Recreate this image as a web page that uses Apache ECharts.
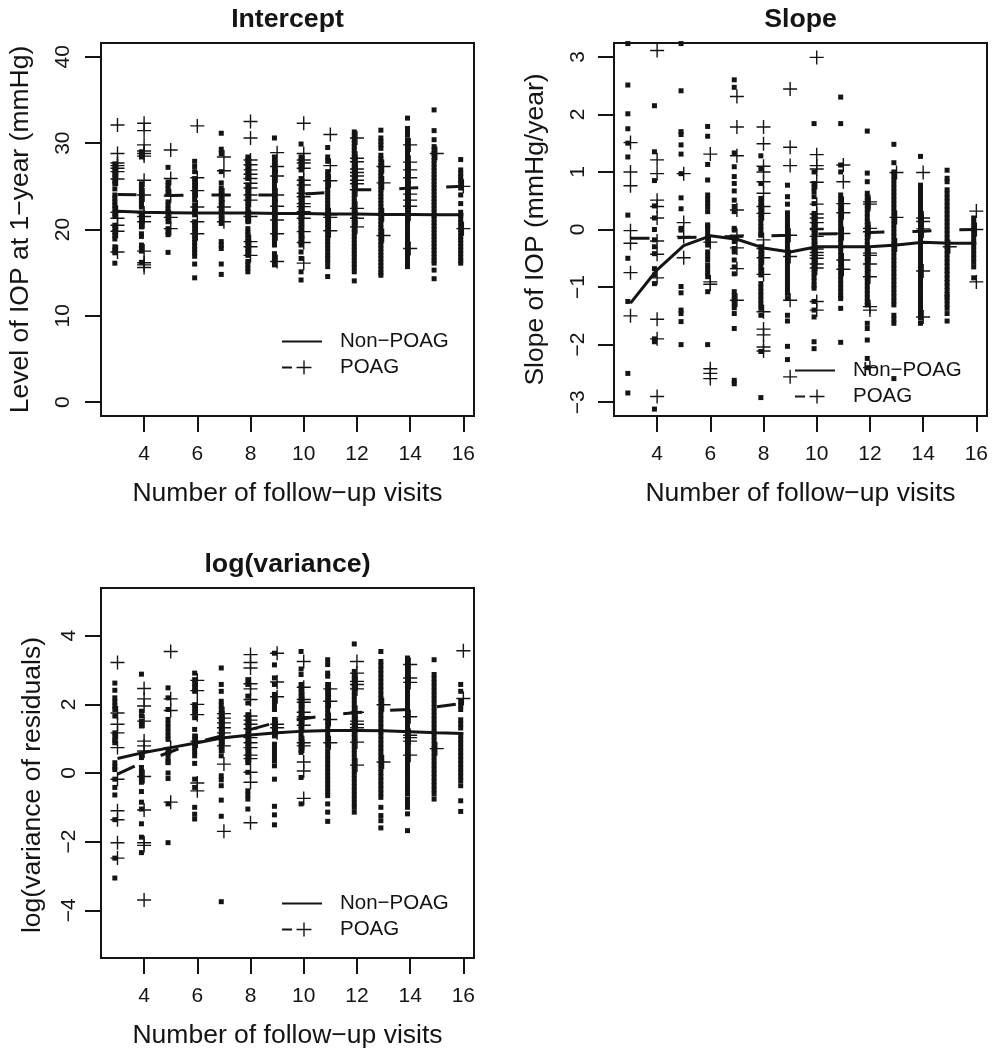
<!DOCTYPE html>
<html>
<head>
<meta charset="utf-8">
<script src="https://cdn.jsdelivr.net/npm/echarts@6/dist/echarts.min.js"></script>
<style>html,body{margin:0;padding:0;background:#fff}#c{width:996px;height:1050px}</style>
</head>
<body>
<div id="c"></div>
<script>
const visits = [3,4,5,6,7,8,9,10,11,12,13,14,15,16];
const nonShift = -0.1;

const interceptNonMean  = [22.1,22.0,21.95,21.9,21.9,21.9,21.85,21.85,21.8,21.8,21.75,21.75,21.7,21.7];
const interceptPoagMean = [24.05,24.0,23.95,24.0,24.0,24.0,24.0,24.1,24.3,24.6,24.6,24.8,24.9,25.0];
const slopeNonMean      = [-1.28,-0.7,-0.28,-0.11,-0.17,-0.32,-0.39,-0.3,-0.3,-0.3,-0.27,-0.22,-0.24,-0.24];
const slopePoagMean     = [-0.15,-0.15,-0.14,-0.13,-0.12,-0.11,-0.1,-0.08,-0.07,-0.05,-0.04,-0.03,-0.01,0.0];
const logvarNonMean     = [0.42,0.6,0.74,0.88,1.03,1.11,1.17,1.22,1.24,1.24,1.23,1.2,1.17,1.15];
const logvarPoagMean    = [-0.03,0.33,0.62,0.9,1.1,1.27,1.48,1.58,1.7,1.76,1.82,1.85,1.93,2.03];

const interceptNon = [
[27.6,27.2,26.8,26.4,26,25.6,25.3,24.7,24,23.6,23.2,22.8,22.4,21.9,21.5,20.5,20.1,19.7,19.3,18.9,18,17.6,17.3,16.1],
[29,28.8,28.4,25.3,24.9,24.5,24.1,23.7,23.3,22.9,22.6,21.9,21.5,21.1,20.7,20.3,19.5,19.2,18.2,17.8,17.5,16.2],
[27.2,25.5,25.1,24.7,24.3,23.2,22.8,22.4,22.1,21.7,21.3,20.9,20.1,19.7,19.4,17.35],
[27.9,27.3,26.7,25.9,25.5,25.1,24.7,24.3,23.9,23.4,22.8,22.4,22,21.7,20.9,20.5,20.1,19.7,19.3,18.9,18.5,18.1,17.7,17.3,16.9,16,14.4],
[31.15,29.3,28.8,26.7,25.4,24.8,24.4,24,23.6,23.2,22.8,22.4,22,21.6,21.2,20.7,18.6,18.2,17.8,16,14.8],
[28.4,28,27.6,27.2,26.8,26.4,25.9,25.15,24.7,24.3,23.9,23.5,23.1,22.7,22.3,21.9,21.5,21.1,20.9,20.1,19.7,19.4,19,18.6,18.2,17.8,17.4,17,16.3,15.9,15.5,15.1],
[30.6,28.4,27.9,27.5,27.1,26.7,26.3,25.9,25.5,25,24.6,24.2,23.8,23.4,23,22.6,22.2,21.8,21.4,21,20.6,20.2,19.8,19.4,19,18.6,18.2,17.2,16.8,16.4,15.9],
[29.9,28.4,28,27.6,27.2,26.9,25.9,25.35,24.9,24.5,24.1,23.7,23.3,22.9,22.5,22.1,21.7,21.3,20.9,20.5,20.1,19.7,19.3,18.9,18.5,18.2,17.4,16.65,15.1,14.15],
[29.5,28.4,27.9,26.7,26.3,25.9,25.5,25,24.6,24.2,23.8,23.4,23,22.6,22.2,21.8,21.4,21,20.6,20.2,19.8,19.4,19,18.6,18.2,17.8,17.4,17,16.6,16.2,15.7,14.55],
[31.3,30.8,30.4,30,29.6,29.2,28.8,28.4,28,27.6,27.2,26.8,26.4,26,25.6,25.2,24.8,24.4,24,23.6,23.2,22.8,22.4,22,21.6,21.2,20.8,20.4,20,19.6,19.2,18.8,18.4,18,17.6,17.2,16.8,16.4,16,15.6,15.1,14.05],
[31.5,30.6,30.2,29.8,29.4,28.6,28.2,27.8,27.4,27,26.6,26.2,25.8,25.4,25,24.6,24.2,23.8,23.4,23,22.6,22.2,21.8,21.4,21,20.6,20.2,19.8,19.4,19,18.6,18.2,17.8,17.4,17,16.6,16.2,15.8,15.4,15,14.7],
[32.9,31.7,31.3,31,30.4,30,29.6,29.2,28.8,28.4,28,27.6,27.2,26.8,26.4,26,25.6,25.2,24.8,24.4,24,23.6,23.2,22.8,22.4,22,21.6,21.2,20.8,20.4,20,19.6,19.2,18.8,18.4,18,17.6,17.2,16.8,16.4,16,15.7],
[33.85,31.45,30.4,29.6,29.2,28.8,28.4,28,27.6,27.2,26.8,26.4,26,25.6,25.2,24.8,24.4,24,23.6,23.2,22.8,22.4,22,21.6,21.2,20.8,20.4,20,19.6,19.2,18.8,18.4,18,17.6,17.2,16.8,16.4,16.1,15.3,14.3],
[28.1,26.9,26.5,26.1,25.7,25.35,24.8,24,23,22,21.6,21.2,20.8,20.4,20,19.6,19.2,18.8,18.4,18,17.6,17.2,16.8,16.4,16.1]
];
const interceptPoag = [
[32.1,28.8,27.7,27.4,27.1,26.7,25.85,22,21.3,20.5,19.8,17.4],
[32.3,31.45,29.8,29.1,28.8,28.5,25.7,24,21.9,21.5,20.9,17.5,16.15,15.9,15.6],
[29.2,25.9,23.9,21.4,20.1],
[32,26,24.5,22.6,20.9,19.5],
[28.4,26.8,24,22.6,20.9],
[32.5,30.6,28.05,27.5,26.9,26.4,25.9,25.35,24.8,24,23.4,21.5,18.6,18,17],
[28.9,27.3,26.2,24,22.7,21.1,19.5,16.3],
[32.3,28.8,28.05,27.7,27.1,25.7,25.15,24.2,23.8,23,22.65,22.05,21.3,19.75,18.5,16.1],
[31,27.4,25.65,21.7,21.4,19.85],
[30.6,28.25,27.85,27,26.6,26.2,25.7,25.3,24.6,22.45,21.3,20.3],
[27.3,25.4,21.7,19.3],
[29.8,27.8,26.9,26,24.8,24.1,23.4,22.7,21.8,17.8],
[28.8],
[25,20.1]
];

const slopeNon = [
[3.23,2.51,2.01,1.75,1.5,1.26,0.25,-0.5,-1.25,-2.5,-2.84],
[2.15,1.35,0.85,0.41,0.2,0,-0.18,-0.3,-0.42,-0.68,-0.79,-0.94,-1.9,-1.95,-3.12],
[3.23,2.41,1.7,1.65,1.47,1.31,0.97,0.55,0.36,0.02,-0.01,-0.99,-1.1,-1.4,-1.46,-1.6,-2],
[1.79,1.62,1.13,0.86,0.6,0.53,0.46,0.39,0.31,0.05,0.08,0.01,-0.06,-0.13,-0.2,-0.27,-0.39,-0.46,-0.53,-0.62,-0.69,-0.76,-0.82,-1.08,-2],
[2.6,2.47,1.33,1.09,0.92,0.8,0.67,0.51,0.4,0.31,0.02,-0.01,-0.21,-0.33,-0.39,-0.53,-0.65,-0.77,-1.08,-1.15,-1.22,-1.29,-1.36,-1.46,-1.72,-2.62,-2.68],
[1.28,1.06,0.8,0.54,0.47,0.4,0.33,0.26,0.19,0.12,0.05,-0.01,-0.08,-0.1,-0.3,-0.37,-0.44,-0.51,-0.58,-0.65,-0.72,-0.79,-0.94,-1.01,-1.08,-1.15,-1.22,-1.29,-1.37,-1.49,-2.12,-2.92],
[0.77,0.57,0.44,0.29,0.22,0.15,0.08,0.01,-0.06,-0.13,-0.2,-0.27,-0.34,-0.41,-0.48,-0.55,-0.62,-0.69,-0.76,-0.83,-0.9,-0.97,-1.04,-1.11,-1.2,-1.49,-1.59,-2.03,-2.26],
[1.84,1,0.8,0.73,0.66,0.57,0.45,0.28,0.21,0.14,0.08,0.01,-0.06,-0.13,-0.2,-0.27,-0.34,-0.41,-0.48,-0.55,-0.62,-0.69,-0.76,-0.83,-0.9,-0.97,-1.02,-1.25,-1.4,-1.52,-1.95,-2.07],
[2.3,1.84,1.12,1,0.6,0.53,0.46,0.39,0.32,0.25,0.18,0.11,0.04,-0.03,-0.1,-0.17,-0.24,-0.31,-0.38,-0.45,-0.52,-0.59,-0.66,-0.73,-0.8,-0.87,-0.94,-1.01,-1.08,-1.15,-1.2,-1.37,-1.96],
[1.71,0.98,0.83,0.63,0.56,0.49,0.42,0.35,0.28,0.21,0.14,0.07,0,-0.07,-0.14,-0.21,-0.28,-0.35,-0.42,-0.49,-0.56,-0.63,-0.7,-0.77,-0.84,-0.91,-0.98,-1.05,-1.12,-1.19,-1.26,-1.31,-1.63,-1.72,-1.92,-2.24,-2.4],
[1.48,1.16,1,0.93,0.86,0.79,0.72,0.65,0.58,0.51,0.44,0.37,0.3,0.23,0.16,0.09,0.02,-0.05,-0.12,-0.19,-0.26,-0.33,-0.4,-0.47,-0.54,-0.61,-0.68,-0.75,-0.82,-0.89,-0.96,-1.03,-1.1,-1.17,-1.24,-1.31,-1.49,-1.56,-1.63,-2.59],
[1.27,0.77,0.7,0.63,0.56,0.49,0.42,0.35,0.28,0.21,0.14,0.07,0,-0.07,-0.14,-0.21,-0.28,-0.35,-0.42,-0.49,-0.56,-0.63,-0.7,-0.77,-0.84,-0.91,-0.98,-1.05,-1.12,-1.19,-1.26,-1.33,-1.4,-1.47,-1.54,-1.63],
[1.03,0.89,0.83,0.69,0.62,0.55,0.48,0.41,0.34,0.27,0.2,0.13,0.06,-0.01,-0.08,-0.15,-0.22,-0.29,-0.36,-0.43,-0.5,-0.57,-0.64,-0.71,-0.78,-0.85,-0.92,-0.99,-1.06,-1.13,-1.17,-1.23,-1.3,-1.37,-1.46,-1.59],
[0.2,0.13,0.06,-0.01,-0.08,-0.15,-0.22,-0.29,-0.36,-0.43,-0.5,-0.57,-0.65,-0.84]
];
const slopePoag = [
[1.51,1,0.76,-0.02,-0.24,-0.75,-1.5],
[3.11,1.21,0.97,0.51,0.4,0.2,-0.2,-0.43,-0.84,-1.56,-1.9,-2.9],
[0.97,0.12,-0.12,-0.49],
[1.31,-0.22,-0.91,-0.95,-2.42,-2.5,-2.59],
[2.31,1.78,1.28,0.34,-0.1,-0.32,-0.68,-1.23],
[1.78,1.49,1.1,1,0.83,0.63,0.4,0.28,-0.18,-0.33,-0.49,-0.78,-1.43,-1.73,-1.83,-2.04,-2.11],
[2.44,1.43,1.11,-0.1,-0.47,-1.23,-2.56],
[2.99,1.3,1.11,1.05,0.82,0.44,0.27,0.2,0.12,0.02,0,-0.12,-0.34,-0.4,-0.45,-0.5,-0.6,-0.67,-1.25,-1.4],
[1.12,0.83,0.45,0.29,-0.07,-0.53,-0.69],
[0.48,0.44,0.02,-0.04,-0.41,-0.45,-0.6,-0.82,-1.34,-1.4,-2.4],
[0.99,0.21,-0.27],
[0.99,0.2,0.14,0.01,-0.03,-0.72,-1.52],
[-0.3],
[0.32,0,-0.91]
];

const logvarNon = [
[2.62,2.41,2.19,2.07,1.95,1.85,1.66,1.17,1.05,0.95,0.88,0.3,0.18,0.1,-0.18,-0.42,-0.64,-1.36,-2.48,-3.06],
[2.88,1.8,1.66,1.5,1.37,0.55,0.45,0.16,0.04,-0.08,-0.2,-0.27,-0.54,-0.85,-1.05,-1.48,-1.87,-2.32],
[2.48,2.19,1.85,1.56,1.44,1.32,1.2,1.08,0.98,0.69,0.57,0.45,0.33,0.3,0,-0.16,-0.9,-2.03],
[2.91,2.72,2.6,2.48,2.38,1.99,1.87,1.75,1.61,1.27,1.08,0.98,0.86,0.74,0.62,0.5,0.28,-0.18,-0.42,-1,-1.2,-1.34],
[3.06,2.58,2.38,2.09,1.97,1.85,1.73,1.61,1.49,1.37,1.25,1.13,1.01,0.89,0.77,0.65,0.5,-0.08,-0.2,-0.37,-0.79,-1.26,-3.75],
[2.72,2.58,2.24,2.04,1.7,1.58,1.46,1.34,1.22,1.1,0.98,0.86,0.74,0.62,0.5,0.38,0.3,0.02,-0.52,-0.64,-0.76,-1.05],
[3.49,3.15,2.77,2.58,2.29,2.17,2.05,1.93,1.85,1.56,1.44,1.32,1.2,1.08,0.84,0.72,0.6,0.48,0.36,0.21,-0.18,-0.97,-1.22,-1.51],
[3.54,3.03,2.87,2.58,2.46,2.34,2.22,2.1,1.98,1.86,1.74,1.62,1.5,1.38,1.26,1.14,1.02,0.9,0.78,0.66,0.6,-0.13,-0.9],
[3.3,3.16,2.91,2.82,2.58,2.46,2.34,2.22,2.1,1.98,1.86,1.74,1.62,1.5,1.38,1.26,1.14,1.02,0.9,0.78,0.64,0.52,0.4,0.28,0.16,0.04,-0.08,-0.2,-0.32,-0.44,-0.56,-0.66,-0.9,-1.14,-1.41],
[3.76,2.96,2.84,2.72,2.6,2.48,2.36,2.24,2.12,2,1.88,1.76,1.64,1.52,1.4,1.28,1.16,1.04,0.92,0.8,0.68,0.56,0.44,0.32,0.2,0.08,-0.04,-0.16,-0.28,-0.4,-0.52,-0.64,-0.76,-0.88,-1,-1.14],
[3.54,3.25,3.13,3.01,2.89,2.77,2.65,2.53,2.41,2.29,2.17,2.05,1.93,1.81,1.69,1.57,1.45,1.33,1.21,1.09,0.97,0.85,0.73,0.61,0.49,0.37,0.25,0.13,0.01,-0.11,-0.23,-0.35,-0.47,-0.59,-0.71,-1,-1.24,-1.39,-1.6],
[3.35,3.23,3.11,2.99,2.87,2.75,2.63,2.51,2.39,2.27,2.15,2.03,1.91,1.79,1.67,1.55,1.43,1.31,1.19,1.07,0.95,0.83,0.71,0.59,0.47,0.35,0.23,0.11,-0.01,-0.13,-0.25,-0.37,-0.49,-0.61,-0.76,-0.88,-1,-1.19,-1.68],
[3.3,2.87,2.75,2.63,2.51,2.39,2.27,2.15,2.03,1.91,1.79,1.67,1.55,1.43,1.31,1.19,1.07,0.95,0.83,0.71,0.59,0.47,0.35,0.23,0.11,-0.01,-0.13,-0.25,-0.37,-0.49,-0.61,-0.76],
[2.58,2.38,2.09,1.97,1.85,1.55,1.43,1.31,1.1,0.98,0.86,0.74,0.62,0.5,0.38,0.26,0.14,0.02,-0.1,-0.22,-0.37,-0.81,-1.12]
];
const logvarPoag = [
[3.22,1.75,1.42,1.17,0.74,-0.18,-1.1,-1.36,-2.03,-2.48],
[2.46,2.16,1.95,1.51,0.93,0.79,0.64,-0.1,-1.08,-2.03,-2.11,-3.7],
[3.54,2.16,1.82,0.74,-0.85],
[2.7,2.4,2,1.7,0.93,-0.29,-0.52],
[1.73,1.6,1.46,1.32,1.17,1.03,0.79,0.26,-1.7],
[3.45,3.22,3.06,2.6,2.45,2.14,1.66,1.54,1.42,1.29,1.03,0.88,0.74,0.52,0.42,0.02,-0.27,-1.45],
[3.49,2.65,2.22,1.42,1.32,1.17],
[3.25,2.5,2.14,2.06,1.77,1.64,1.39,0.88,0.79,0.32,0.06,-0.74],
[2.45,2.09,1.56,0.88],
[3.25,2.91,2.67,2.58,2.45,1.77,1.51,1.42,1.32,0.9,0.23],
[1.99,0.32],
[3.16,2.77,2.64,1.64,1.1,1.03,0.93,0.52],
[0.71],
[3.56,2.17]
];

const xTicks = [4,6,8,10,12,14,16];
const interceptTicks = [0,10,20,30,40];
const slopeTicks = [-3,-2,-1,0,1,2,3];
const logvarTicks = [-4,-2,0,2,4];

const titles = ['Intercept','Slope','log(variance)'];
const yNames = ['Level of IOP at 1\u2212year (mmHg)','Slope of IOP (mmHg/year)','log(variance of residuals)'];
const xName = 'Number of follow\u2212up visits';
const groupNames = ['Non\u2212POAG','POAG'];

const FONT = '"Liberation Sans", Helvetica, Arial, sans-serif';
const INK = '#141414';
const PLUS = 'path://M9 0h2v9h9v2h-9v9h-2v-9h-9v-2h9z';
const ICON_SOLID = 'path://M0 6h40v2h-40z';
const ICON_DASH = 'path://M0 6h10v2h-10zM14.5 6.3h15v1.4h-15zM21.3 0h1.4v14h-1.4zM40 7L40 7z';

const panels = [
  {left:101, top:43,  min:-1.6,  max:41.6, ticks:interceptTicks, non:interceptNon, poag:interceptPoag, nonMean:interceptNonMean, poagMean:interceptPoagMean, nameGap:67, namePad:[0,0,0,0],  labelMargin:27, legendLeft:282, legendTop:331, titleTop:6},
  {left:614, top:43,  min:-3.24, max:3.24, ticks:slopeTicks,     non:slopeNon,     poag:slopePoag,     nonMean:slopeNonMean,     poagMean:slopePoagMean,     nameGap:64.5, namePad:[0,0,0,0], labelMargin:25, legendLeft:795, legendTop:360, titleTop:6},
  {left:101, top:588, min:-5.39, max:5.39, ticks:logvarTicks,    non:logvarNon,    poag:logvarPoag,    nonMean:logvarNonMean,    poagMean:logvarPoagMean,    nameGap:54.5, namePad:[0,24,0,0], labelMargin:21.5, legendLeft:282, legendTop:893, titleTop:551}
];

const fmt = v => String(v).replace('-', '\u2212');
const option = {
  animation:false, backgroundColor:'#fff',
  title:[], legend:[], grid:[], xAxis:[], yAxis:[], series:[]
};
panels.forEach((p,i) => {
  option.title.push({text:titles[i], left:p.left+186.5, top:p.titleTop, textAlign:'center', padding:0,
    textStyle:{fontFamily:FONT, fontSize:26.7, fontWeight:'bold', color:INK}});
  option.grid.push({left:p.left, top:p.top, width:373, height:373, show:true, borderColor:INK, borderWidth:2, backgroundColor:'transparent'});
  option.xAxis.push({type:'value', gridIndex:i, min:2.38, max:16.4, name:xName, nameLocation:'middle', nameGap:64,
    nameTextStyle:{fontFamily:FONT, fontSize:26.5, color:INK},
    axisLine:{show:true, onZero:false, lineStyle:{color:INK,width:2}}, splitLine:{show:false},
    axisTick:{show:true, inside:false, length:16, lineStyle:{color:INK,width:2}, customValues:xTicks},
    axisLabel:{show:true, margin:28, fontFamily:FONT, fontSize:21, color:INK, customValues:xTicks}});
  option.yAxis.push({type:'value', gridIndex:i, min:p.min, max:p.max, name:yNames[i], nameLocation:'middle', nameGap:p.nameGap,
    nameTextStyle:{fontFamily:FONT, fontSize:26.5, color:INK, padding:p.namePad},
    axisLine:{show:true, onZero:false, lineStyle:{color:INK,width:2}}, splitLine:{show:false},
    axisTick:{show:true, inside:false, length:16, lineStyle:{color:INK,width:2}, customValues:p.ticks},
    axisLabel:{show:true, rotate:90, margin:p.labelMargin, fontFamily:FONT, fontSize:21, color:INK, customValues:p.ticks, formatter:fmt}});
  const nonPts = [], poagPts = [];
  visits.forEach((v,k) => {
    p.non[k].forEach(y => nonPts.push([v+nonShift,y]));
    p.poag[k].forEach(y => poagPts.push([v,y]));
  });
  const common = {xAxisIndex:i, yAxisIndex:i, silent:true};
  option.series.push({...common, type:'scatter', name:groupNames[0]+' points', data:nonPts, symbol:'rect', symbolSize:5, itemStyle:{color:INK, opacity:1}, z:2});
  option.series.push({...common, type:'scatter', name:groupNames[1]+' points', data:poagPts, symbol:PLUS, symbolSize:14, itemStyle:{color:INK, opacity:1}, z:3});
  option.series.push({...common, type:'line', name:groupNames[0], data:visits.map((v,k)=>[v,p.nonMean[k]]), showSymbol:false, symbol:'none',
    lineStyle:{color:INK,width:3}, itemStyle:{color:INK}, z:4});
  option.series.push({...common, type:'line', name:groupNames[1], data:visits.map((v,k)=>[v,p.poagMean[k]]), showSymbol:false, symbol:'none',
    lineStyle:{color:INK,width:3,type:[19,28]}, itemStyle:{color:INK}, z:4});
  option.legend.push({left:p.legendLeft, top:p.legendTop, orient:'vertical', selectedMode:false, itemWidth:40, itemHeight:14, itemGap:5,
    padding:0, textStyle:{fontFamily:FONT, fontSize:20.5, color:INK, padding:[0,0,0,13]},
    data:[{name:groupNames[0], icon:ICON_SOLID},{name:groupNames[1], icon:ICON_DASH}]});
});
const chart = echarts.init(document.getElementById('c'), null, {renderer:'canvas'});
chart.setOption(option);
</script>
</body>
</html>
